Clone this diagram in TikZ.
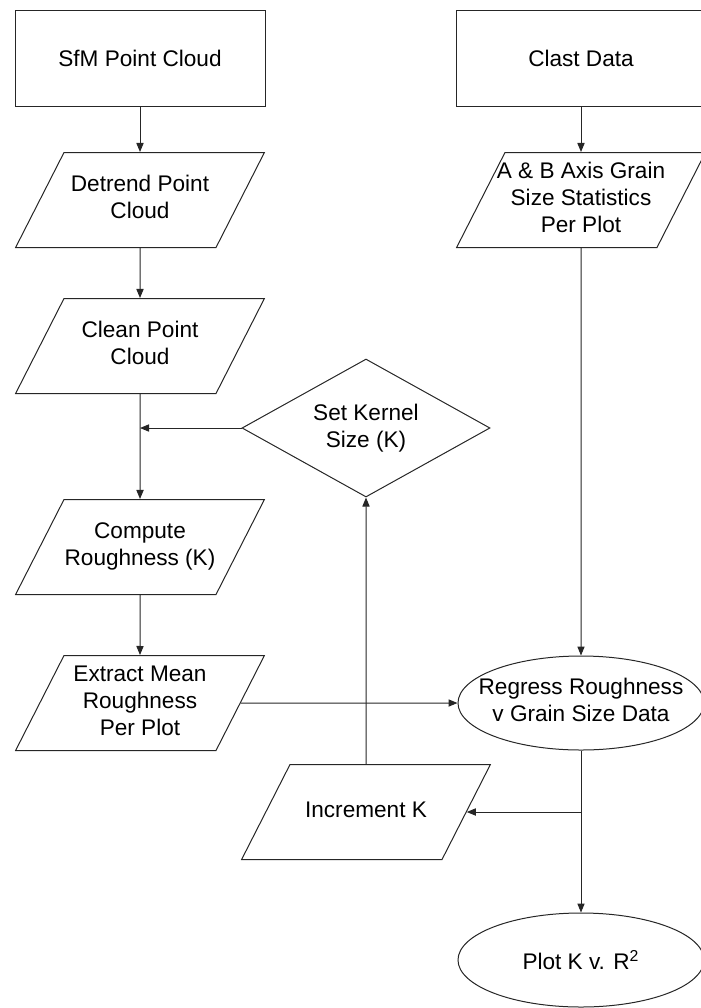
\documentclass[tikz,border=0pt]{standalone}
\usepackage{fontspec}
\setmainfont{Liberation Sans}
\usetikzlibrary{shapes.geometric,arrows.meta}
% Text in den Parallelogrammen: feste Hoehe, zentriert
\newcommand{\iotext}[1]{\parbox[c][47.5pt][c]{76pt}{\makebox[76pt]{\begin{tabular}{@{}c@{}}#1\end{tabular}}}}
\begin{document}
\begin{tikzpicture}[x=0.5pt,y=-0.5pt,
		font=\fontsize{11.3}{13.5}\selectfont,
		line width=0.5pt,
		box/.style={draw=black!85,rectangle,align=center,minimum width=125pt,minimum height=48pt},
		io/.style={draw=black!85,trapezium,trapezium left angle=63,trapezium right angle=117,inner sep=0pt},
		oval/.style={draw=black!85,ellipse,inner sep=0pt,minimum width=123pt,minimum height=47pt},
		choice/.style={draw=black!85,diamond,aspect=1.8,align=center,inner sep=0pt,minimum width=124pt,minimum height=69pt},
		arr/.style={draw=black!85,-{Triangle[length=4.5pt,width=3.6pt]}}]
	\useasboundingbox (0,0) rectangle (701,1008);
	% linke Spalte
	\node[box] (sfm) at (140,58) {SfM Point Cloud};
	\node[io] (detrend) at (140,200) {\iotext{Detrend Point\\Cloud}};
	\node[io] (clean) at (140,346) {\iotext{Clean Point\\Cloud}};
	\node[io] (compute) at (140,547) {\iotext{Compute\\Roughness (K)}};
	\node[io] (extract) at (140,703) {\iotext{Extract Mean\\Roughness\\Per Plot}};
	% Mitte
	\node[choice] (kernel) at (366,428) {Set Kernel\\Size (K)};
	\node[io] (increment) at (366,812) {\iotext{Increment K}};
	% rechte Spalte
	\node[box] (clast) at (581,58) {Clast Data};
	\node[io] (grain) at (581,200) {\iotext{A \& B Axis Grain\\Size Statistics\\Per Plot}};
	\node[oval] (regress) at (581,703) {\makebox[0pt]{\begin{tabular}{@{}c@{}}Regress Roughness\\v Grain Size Data\end{tabular}}};
	\node[oval] (plot) at (581,960) {Plot K v. R\textsuperscript{2}};
	% Pfeile
	\draw[arr] (sfm) -- (detrend);
	\draw[arr] (detrend) -- (clean);
	\draw[arr] (clean) -- (compute);
	\draw[arr] (kernel.west) -- (kernel.west -| clean.south);
	\draw[arr] (compute) -- (extract);
	\draw[arr] (extract.east) -- (regress.west);
	\draw[arr] (clast) -- (grain);
	\draw[arr] (grain) -- (regress);
	\draw[arr] (increment) -- (kernel);
	\draw[arr] (regress) -- (plot);
	\draw[arr] (regress.south |- increment.east) -- (increment.east);
\end{tikzpicture}
\end{document}
